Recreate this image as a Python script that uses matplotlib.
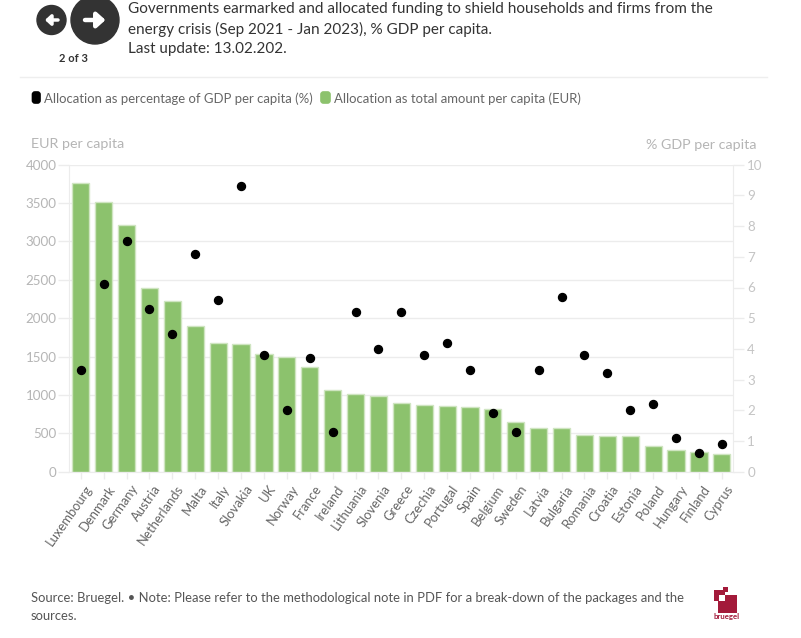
import matplotlib
matplotlib.use('Agg')
import matplotlib.pyplot as plt
import matplotlib.transforms as mtrans
from matplotlib.patches import Circle, Rectangle, FancyBboxPatch

countries = ['Luxembourg', 'Denmark', 'Germany', 'Austria', 'Netherlands', 'Malta', 'Italy', 'Slovakia', 'UK',
             'Norway', 'France', 'Ireland', 'Lithuania', 'Slovenia', 'Greece', 'Czechia', 'Portugal', 'Spain',
             'Belgium', 'Sweden', 'Latvia', 'Bulgaria', 'Romania', 'Croatia', 'Estonia', 'Poland', 'Hungary',
             'Finland', 'Cyprus']
eur_per_capita = [3761, 3509, 3218, 2397, 2224, 1898, 1681, 1668, 1529, 1490, 1359, 1068, 1012, 982, 894, 868,
                  859, 846, 811, 651, 573, 564, 473, 464, 460, 330, 278, 256, 230]
pct_gdp = [3.3, 6.1, 7.5, 5.3, 4.5, 7.1, 5.6, 9.3, 3.8, 2.0, 3.7, 1.3, 5.2, 4.0, 5.2, 3.8, 4.2, 3.3, 1.9, 1.3,
           3.3, 5.7, 3.8, 3.2, 2.0, 2.2, 1.1, 0.6, 0.9]
left_ticks = [0, 500, 1000, 1500, 2000, 2500, 3000, 3500, 4000]
right_ticks = [0, 1, 2, 3, 4, 5, 6, 7, 8, 9, 10]

W, H = 801, 638
plt.rcParams['font.family'] = ['Lato', 'DejaVu Sans']
GRID = '#ececec'
GREEN = '#8cc26d'
LIGHT = '#b5b5b5'

fig = plt.figure(figsize=(W / 100, H / 100), dpi=100)

# page furniture in pixel coordinates
bg = fig.add_axes([0, 0, 1, 1])
bg.set_xlim(0, W)
bg.set_ylim(H, 0)
bg.axis('off')

bg.add_patch(Circle((51.5, 20), 14.5, color='#333333'))
bg.add_patch(Circle((95, 20), 24, color='#333333'))
bg.annotate('', xy=(45, 20), xytext=(58, 20),
            arrowprops=dict(arrowstyle='-|>,head_width=0.3,head_length=0.32', color='white', lw=2.5, shrinkA=0, shrinkB=0))
bg.annotate('', xy=(105.5, 20), xytext=(85, 20),
            arrowprops=dict(arrowstyle='-|>,head_width=0.45,head_length=0.5', color='white', lw=3.2, shrinkA=0, shrinkB=0))
bg.text(73, 59, '2 of 3', fontsize=8, fontweight='bold', color='#333333', ha='center', va='center')

title_lines = ['Governments earmarked and allocated funding to shield households and firms from the',
               'energy crisis (Sep 2021 - Jan 2023), % GDP per capita.',
               'Last update: 13.02.202.']
for y, line in zip([9, 29, 49], title_lines):
    bg.text(128.5, y, line, fontsize=11, color='#333333', ha='left', va='center')

bg.plot([20, 767], [77, 77], color='#eeeeee', lw=1)

bg.add_patch(FancyBboxPatch((32.5, 92), 7.5, 11, boxstyle='round,pad=0,rounding_size=2.5', fc='black', ec='black', lw=1.2))
bg.text(44, 98.5, 'Allocation as percentage of GDP per capita (%)', fontsize=9.45, color='#666666', va='center')
bg.add_patch(FancyBboxPatch((321, 92), 9, 11, boxstyle='round,pad=0,rounding_size=2.5', fc=GREEN, ec=GREEN, lw=1.2))
bg.text(333.5, 98.5, 'Allocation as total amount per capita (EUR)', fontsize=9.45, color='#666666', va='center')

bg.text(31, 144, 'EUR per capita', fontsize=10.3, color=LIGHT, va='center')
bg.text(757, 145, '% GDP per capita', fontsize=10.3, color=LIGHT, va='center', ha='right')

bg.text(31, 598, 'Source: Bruegel. • Note: Please refer to the methodological note in PDF for a break-down of the packages and the',
        fontsize=9.38, color='#555555', va='center')
bg.text(31, 616, 'sources.', fontsize=9.38, color='#555555', va='center')

# logo
RED = '#a31a3a'
bg.add_patch(Rectangle((718, 595), 19, 18, color=RED, lw=0))
bg.add_patch(Rectangle((714, 590), 11, 11, color=RED, lw=0))
bg.add_patch(Rectangle((719, 595), 6, 6, color='white', lw=0))
bg.add_patch(Rectangle((723, 587), 5, 5, color=RED, lw=0))
bg.text(727, 617, 'bruegel', fontsize=5.6, fontweight='bold', color=RED, ha='center', va='center')

# main plot
left, right, top, bottom = 69.3, 733.3, 164.7, 471.7
ax = fig.add_axes([left / W, 1 - bottom / H, (right - left) / W, (bottom - top) / H])
ax.patch.set_alpha(0)
x = list(range(len(countries)))
ax.bar(x, eur_per_capita, width=0.75, color=GREEN, edgecolor='#cfe5c1', linewidth=1, zorder=2)
ax.set_xlim(-0.5, len(countries) - 0.5)
ax.set_ylim(0, 4000)
ax.set_yticks(left_ticks)
ax.set_xticks(x)
ax.set_xticklabels(countries, rotation=55, ha='right', va='top', rotation_mode='anchor')
ax.tick_params(axis='x', length=5, color=GRID, width=1, labelsize=9.4, labelcolor='#666666', pad=3)
ax.tick_params(axis='y', length=8, color=GRID, width=1, labelsize=9.6, labelcolor=LIGHT, pad=1)
ax.grid(axis='y', color=GRID, lw=1, zorder=1)
ax.set_axisbelow(True)
for s in ['top', 'right']:
    ax.spines[s].set_visible(False)
for s in ['left', 'bottom']:
    ax.spines[s].set_color(GRID)

# the labels sit a little right of their ticks in the original
shift = mtrans.ScaledTranslation(4 / 100, 0, fig.dpi_scale_trans)
for lab in ax.get_xticklabels():
    lab.set_transform(lab.get_transform() + shift)

ax2 = ax.twinx()
ax2.scatter(x, pct_gdp, s=33, color='black', zorder=5, clip_on=False)
ax2.set_ylim(0, 10)
ax2.set_yticks(right_ticks)
ax2.tick_params(axis='y', length=8, color=GRID, width=1, labelsize=9.6, labelcolor='#c4c4c4', pad=2)
for s in ['top', 'left', 'bottom']:
    ax2.spines[s].set_visible(False)
ax2.spines['right'].set_color(GRID)

fig.savefig('out.png', dpi=100)
